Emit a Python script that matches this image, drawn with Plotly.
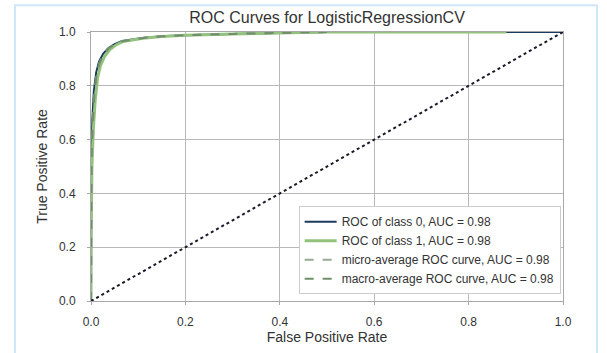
import plotly.graph_objects as go

# ---- data ----
fpr_class0 = [0, 0, 0.001, 0.003, 0.006, 0.011, 0.017, 0.026, 0.037, 0.05, 0.066, 0.09, 0.11, 0.15, 0.2, 0.3, 0.4, 0.5, 1.0]
tpr_class0 = [0, 0.25, 0.55, 0.68, 0.78, 0.85, 0.89, 0.92, 0.94, 0.955, 0.967, 0.973, 0.978, 0.984, 0.988, 0.993, 0.997, 1.0, 1.0]

fpr_class1 = [0, 0, 0.002, 0.005, 0.009, 0.014, 0.02, 0.029, 0.04, 0.053, 0.068, 0.09, 0.11, 0.15, 0.2, 0.3, 0.4, 0.5, 0.88]
tpr_class1 = [0, 0.22, 0.5, 0.64, 0.75, 0.83, 0.875, 0.91, 0.935, 0.952, 0.965, 0.972, 0.977, 0.983, 0.988, 0.993, 0.997, 1.0, 1.0]

fpr_micro = [0, 0, 0.001, 0.004, 0.007, 0.012, 0.018, 0.027, 0.038, 0.05, 0.066, 0.09, 0.11, 0.15, 0.2, 0.3, 0.4, 0.5]
tpr_micro = [0, 0.24, 0.53, 0.67, 0.77, 0.845, 0.885, 0.918, 0.94, 0.955, 0.966, 0.972, 0.978, 0.984, 0.988, 0.993, 0.997, 1.0]

fpr_macro = [0, 0, 0.001, 0.004, 0.007, 0.012, 0.018, 0.027, 0.038, 0.05, 0.066, 0.09, 0.11, 0.15, 0.2, 0.3, 0.4, 0.5]
tpr_macro = [0, 0.235, 0.525, 0.665, 0.77, 0.845, 0.885, 0.917, 0.94, 0.955, 0.966, 0.972, 0.978, 0.984, 0.988, 0.993, 0.997, 1.0]

diag_x = [0, 1]
diag_y = [0, 1]

labels = [
    "ROC of class 0, AUC = 0.98",
    "ROC of class 1, AUC = 0.98",
    "micro-average ROC curve, AUC = 0.98",
    "macro-average ROC curve, AUC = 0.98",
]
tick_vals = [0.0, 0.2, 0.4, 0.6, 0.8, 1.0]
tick_text = ["0.0", "0.2", "0.4", "0.6", "0.8", "1.0"]

fig = go.Figure()
fig.add_trace(go.Scatter(x=fpr_class0, y=tpr_class0, mode="lines", name=labels[0],
                         line=dict(color="#1c3a5e", width=2)))
fig.add_trace(go.Scatter(x=fpr_class1, y=tpr_class1, mode="lines", name=labels[1],
                         line=dict(color="#93c27c", width=3)))
fig.add_trace(go.Scatter(x=fpr_micro, y=tpr_micro, mode="lines", name=labels[2],
                         line=dict(color="#98aa94", width=2, dash="dash")))
fig.add_trace(go.Scatter(x=fpr_macro, y=tpr_macro, mode="lines", name=labels[3],
                         line=dict(color="#6f8f6a", width=2, dash="dash")))
fig.add_trace(go.Scatter(x=diag_x, y=diag_y, mode="lines", showlegend=False,
                         line=dict(color="#1a1a2a", width=2, dash="dot")))

font_family = "Liberation Sans, Arial, sans-serif"
axis_common = dict(
    range=[0, 1], tickvals=tick_vals, ticktext=tick_text,
    showgrid=True, gridcolor="#b8b8b8", gridwidth=1,
    showline=True, linecolor="#a8a8a8", linewidth=1, mirror=True,
    ticks="outside", ticklen=3, tickcolor="#a8a8a8",
    tickfont=dict(size=12, color="#333333", family=font_family),
    zeroline=False,
)

fig.update_layout(
    width=607, height=353,
    margin=dict(l=91, r=44, t=32, b=49),
    paper_bgcolor="white", plot_bgcolor="white",
    font=dict(family=font_family, color="#333333"),
    title=dict(text="ROC Curves for LogisticRegressionCV", x=(91 + 236) / 607, xanchor="center",
               y=1 - 17 / 353, yanchor="middle", font=dict(size=16, color="#333333")),
    xaxis=dict(title=dict(text="False Positive Rate", font=dict(size=14), standoff=2),
               ticklabelstandoff=7, **axis_common),
    yaxis=dict(title=dict(text="True Positive Rate", font=dict(size=14), standoff=8),
               ticklabelstandoff=9, **axis_common),
    legend=dict(x=0.995, y=0.025, xanchor="right", yanchor="bottom",
                bgcolor="white", bordercolor="#cccccc", borderwidth=1,
                font=dict(size=12, color="#333333"), tracegroupgap=0, itemwidth=32),
    showlegend=True,
)

# outer light-blue frame
fig.add_shape(type="rect", xref="paper", yref="paper",
              x0=(15 - 91) / 472, x1=(597 - 91) / 472,
              y0=(304 - 380) / 272, y1=(304 - 5) / 272,
              line=dict(color="#cfe7fb", width=2), layer="below")

fig.write_html("out.html")
